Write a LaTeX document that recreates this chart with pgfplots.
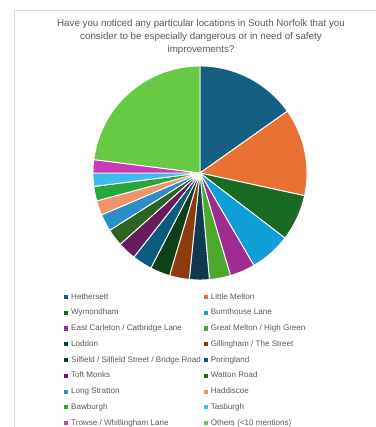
\documentclass[border=0pt]{standalone}
\usepackage{pgfplots}
\usepackage{pgfplotstable}
\pgfplotsset{compat=1.18}
\usepackage{fontspec}
\setmainfont{Liberation Sans}

\definecolor{c0}{HTML}{156082}
\definecolor{c1}{HTML}{E97132}
\definecolor{c2}{HTML}{196B24}
\definecolor{c3}{HTML}{0F9ED5}
\definecolor{c4}{HTML}{A02B93}
\definecolor{c5}{HTML}{4EA72E}
\definecolor{c6}{HTML}{0D3A4F}
\definecolor{c7}{HTML}{8E3C0E}
\definecolor{c8}{HTML}{0F3F16}
\definecolor{c9}{HTML}{085C7E}
\definecolor{c10}{HTML}{691B60}
\definecolor{c11}{HTML}{2F6420}
\definecolor{c12}{HTML}{2A8FC6}
\definecolor{c13}{HTML}{F0936A}
\definecolor{c14}{HTML}{27A63A}
\definecolor{c15}{HTML}{3DBAEE}
\definecolor{c16}{HTML}{C93BB7}
\definecolor{c17}{HTML}{66CA45}
\definecolor{txt}{HTML}{595959}
\definecolor{frame}{HTML}{D9D9D9}

\pgfplotstableread{
id count
0 76
1 66
2 35
3 31
4 19
5 16
6 15
7 15
8 15
9 15
10 14
11 13
12 13
13 11
14 11
15 10
16 10
17 115
}\data

\begin{document}
\begin{tikzpicture}
\begin{axis}[
  x=1bp, y=1bp, y dir=reverse,
  xmin=0, xmax=376, ymin=0, ymax=427,
  hide axis, clip=false, scale only axis,
  legend columns=2,
  legend cell align=left,
  legend image code/.code={\fill[#1, draw=none] (0bp,-2bp) rectangle (4bp,2bp);},
  legend style={at={(axis cs:61,291)}, anchor=north west, draw=none, fill=none,
    font=\fontsize{8.1}{9}\selectfont, text=txt,
    nodes={inner sep=0pt, text height=5.8bp, text depth=1.6bp},
    row sep=8.4bp,
    /tikz/every odd column/.append style={column sep=3bp},
    /tikz/every even column/.append style={column sep=3bp}},
]
\path (axis cs:0,0) coordinate (TL) (axis cs:376,427) coordinate (BR);
\draw[frame, line width=0.8bp] (axis cs:14,427) -- (axis cs:14,10) -- (axis cs:376,10);
\node[align=center, text=txt, font=\fontsize{9.8}{13}\selectfont, anchor=north] at (axis cs:201,16)
  {Have you noticed any particular locations in South Norfolk that you\\consider to be especially dangerous or in need of safety\\improvements?};

\def\cum{0}
\pgfplotsforeachungrouped \i in {0,...,17}{%
  \pgfplotstablegetelem{\i}{count}\of\data
  \let\cnt\pgfplotsretval
  \pgfmathsetmacro\a{90-\cum*0.72}%
  \pgfmathsetmacro\b{90-(\cum+\cnt)*0.72}%
  \edef\tmp{\noexpand\filldraw[fill=c\i, draw=white, line width=0.9bp] (axis cs:200,173) -- ++(\a:107bp) arc[start angle=\a, end angle=\b, radius=107bp] -- cycle;}%
  \tmp
  \pgfmathtruncatemacro\cum{\cum+\cnt}%
}

\addlegendimage{fill=c0}\addlegendentry{Hethersett}
\addlegendimage{fill=c1}\addlegendentry{Little Melton}
\addlegendimage{fill=c2}\addlegendentry{Wymondham}
\addlegendimage{fill=c3}\addlegendentry{Bumthouse Lane}
\addlegendimage{fill=c4}\addlegendentry{East Carleton / Catbridge Lane}
\addlegendimage{fill=c5}\addlegendentry{Great Melton / High Green}
\addlegendimage{fill=c6}\addlegendentry{Loddon}
\addlegendimage{fill=c7}\addlegendentry{Gillingham / The Street}
\addlegendimage{fill=c8}\addlegendentry{Silfield / Silfield Street / Bridge Road}
\addlegendimage{fill=c9}\addlegendentry{Poringland}
\addlegendimage{fill=c10}\addlegendentry{Toft Monks}
\addlegendimage{fill=c11}\addlegendentry{Watton Road}
\addlegendimage{fill=c12}\addlegendentry{Long Stratton}
\addlegendimage{fill=c13}\addlegendentry{Haddiscoe}
\addlegendimage{fill=c14}\addlegendentry{Bawburgh}
\addlegendimage{fill=c15}\addlegendentry{Tasburgh}
\addlegendimage{fill=c16}\addlegendentry{Trowse / Whitlingham Lane}
\addlegendimage{fill=c17}\addlegendentry{Others (<10 mentions)}
\end{axis}
\pgfresetboundingbox
\path (TL) rectangle (BR);
\end{tikzpicture}
\end{document}
